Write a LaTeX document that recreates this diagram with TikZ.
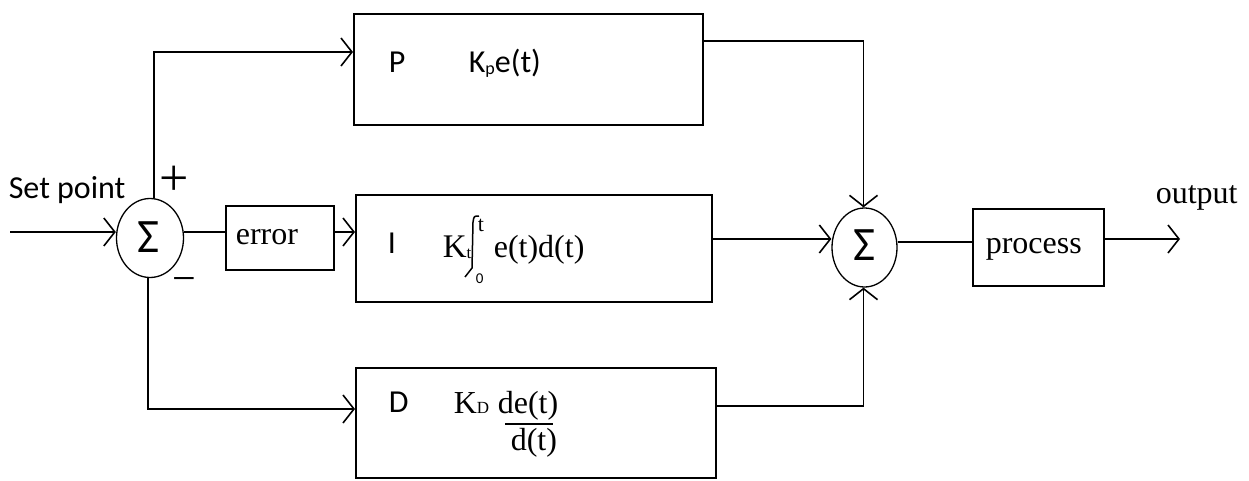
\documentclass[tikz,border=0pt]{standalone}
\usepackage{fontspec}
\setmainfont{Liberation Serif}
\newfontfamily\calfont{Carlito}
\usetikzlibrary{arrows.meta,shapes.geometric,calc}
\begin{document}
\begin{tikzpicture}[x=1pt,y=-1pt,
  line width=1.6pt,
  blockbox/.style={draw,rectangle,inner sep=0pt,anchor=north west},
  sumnode/.style={draw,ellipse,inner sep=0pt,line width=1.3pt},
  arr/.style={-{Straight Barb[length=11pt,width=28pt]}},
  sanslbl/.style={font=\calfont\fontsize{32}{32}\selectfont,inner sep=0pt,anchor=base west},
  seriflbl/.style={font=\fontsize{32}{32}\selectfont,inner sep=0pt,anchor=base west},
  sigmalbl/.style={font=\calfont\fontsize{48}{48}\selectfont,inner sep=0pt},
  signlbl/.style={font=\fontsize{42}{42}\selectfont,inner sep=0pt}]
\useasboundingbox (0,0) rectangle (1249,481);
% blocks
\node[blockbox,minimum width=349pt,minimum height=111pt] (P) at (353,13) {};
\node[blockbox,minimum width=356pt,minimum height=107pt] (I) at (355,194) {};
\node[blockbox,minimum width=360pt,minimum height=110pt] (D) at (355,367) {};
\node[blockbox,minimum width=108pt,minimum height=64pt] (err) at (225,205) {};
\node[blockbox,minimum width=131pt,minimum height=77pt] (proc) at (972,208) {};
\node[sumnode,minimum width=67pt,minimum height=79pt] (s1) at (150,238) {};
\node[sumnode,minimum width=65pt,minimum height=79pt] (s2) at (864.5,247.5) {};
% sigma signs
\node[sigmalbl] (sig1) at (149,237) {Σ};
\node[sigmalbl] (sig2) at (864,245) {Σ};
\node[signlbl,font=\fontsize{52}{52}\selectfont] (plus) at (174,181) {+};
\node[signlbl] (minus) at (184,285) {−};
% coordinates
\coordinate (sp) at (10,232);
\coordinate (pin) at (353,52);
\coordinate (din) at (355,409);
\coordinate (pout) at (702,41);
\coordinate (iout) at (711,239);
\coordinate (dout) at (715,406);
\coordinate (oend) at (1180,239);
% connectors
\draw[arr] (sp) -- (sp -| s1.west);
\draw[arr] ($(s1.north)+(4,0)$) |- (pin);
\draw[arr] ($(s1.south)+(-2,0)$) |- (din);
\draw ($(s1.east)+(0,-6)$) -- (err.west |- 0,232);
\draw[arr] (err.east |- 0,232) -- (I.west |- 0,232);
\draw[arr] (pout) -| ($(s2.north)+(-1,0)$);
\draw[arr] (iout) -- (iout -| s2.west);
\draw[arr] (dout) -| ($(s2.south)+(-1,0)$);
\draw (s2.east |- 0,242) -- (proc.west |- 0,242);
\draw[arr] (proc.east |- oend) -- (oend);
% labels
\node[sanslbl] (setp) at (8,198) {Set point};
\node[sanslbl] (pl) at (388,73) {P};
\node[sanslbl] (pf) at (468,73) {K\raisebox{-2pt}{\fontsize{18}{18}\selectfont p}e(t)};
\node[sanslbl] (il) at (387,253) {I};
\node[seriflbl,font=\fontsize{33}{33}\selectfont] (kt) at (442,257) {K\raisebox{-1pt}{\fontsize{17}{17}\selectfont t}};
\draw[line width=1.5pt] (465,277) .. controls (469,272) .. (472,268) -- (473,222) .. controls (474,216) .. (479,216);
\node[seriflbl,font=\fontsize{22}{22}\selectfont] (tup) at (477,231) {t};
\node[font=\calfont\fontsize{15}{15}\selectfont,inner sep=0pt,anchor=base west] (tlow) at (475,283) {0};
\node[seriflbl] (ed) at (493,257) {e(t)d(t)};
\node[sanslbl] (dl) at (388,412) {D};
\node[seriflbl] (kd) at (453,413) {K{\fontsize{17}{17}\selectfont D}};
\node[seriflbl] (num) at (497,413) {de(t)};
\draw[line width=1.5pt] (505,424) -- (553,424);
\node[seriflbl] (den) at (510,450) {d(t)};
\node[seriflbl] (errl) at (235,244) {error};
\node[seriflbl] (procl) at (985,253) {process};
\node[seriflbl] (outl) at (1155,203) {output};
\end{tikzpicture}
\end{document}
